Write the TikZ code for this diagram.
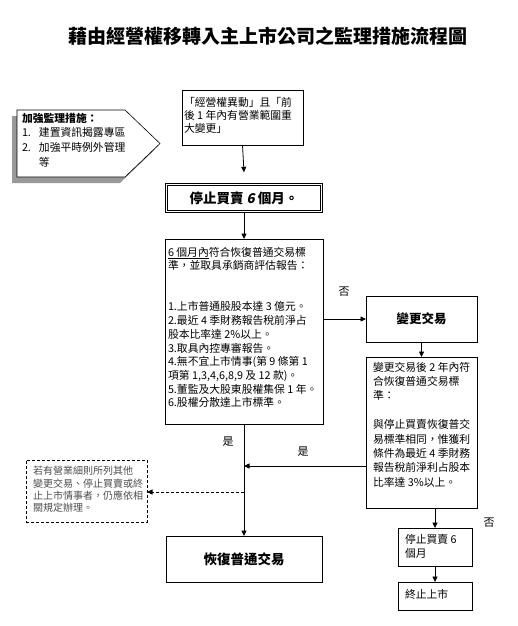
\documentclass[tikz,border=0pt]{standalone}
\usepackage{fontspec}
\setmainfont{Noto Sans CJK TC}
\newfontfamily\slantcjk{Noto Sans CJK TC}[FakeSlant=0.2]
\usetikzlibrary{arrows.meta}
\begin{document}
\begin{tikzpicture}[x=1pt,y=-1pt,
  box/.style={draw, line width=0.8pt, inner sep=0pt, outer sep=0pt, anchor=north west},
  txt/.style={inner sep=0pt, outer sep=0pt, anchor=north west, align=left, font=\fontsize{10.8}{13.7}\selectfont},
  lbl/.style={inner sep=0pt, font=\fontsize{11}{13}\selectfont},
  arr/.style={line width=0.8pt, -{Triangle[length=5.5pt,width=5pt]}}]
\useasboundingbox (0,0) rectangle (518,626);

\node[inner sep=0pt, font=\bfseries\fontsize{19}{23}\selectfont] (title) at (268,36) {藉由經營權移轉入主上市公司之監理措施流程圖};

% callout with shadow
\fill[black!40] (12,116) -- (120,116) -- (155,149.5) -- (120,183) -- (12,183) -- cycle;
\draw[line width=0.6pt, fill=white] (17,110) -- (125,110) -- (160,143.5) -- (125,177) -- (17,177) -- cycle;
\node[txt, font=\fontsize{10.8}{14.6}\selectfont] (calltxt) at (22,113)
  {{\bfseries 加強監理措施：}\\\makebox[17pt][l]{1.}建置資訊揭露專區\\\makebox[17pt][l]{2.}加強平時例外管理\\\makebox[17pt][l]{}等};

% boxes
\node[box, minimum width=121pt, minimum height=55pt] (b1) at (182,90) {};
\node[txt, font=\fontsize{10.8}{13}\selectfont] (b1t) at (184,97) {「經營權異動」且「前\\後 1 年內有營業範圍重\\大變更」};

\node[draw, line width=0.6pt, double, double distance=1.5pt, inner sep=0pt, outer sep=0pt, anchor=north west,
      minimum width=155.4pt, minimum height=27.4pt, font=\bfseries\fontsize{13.5}{15}\selectfont] (b2) at (166.3,184.3) {停止買賣 {\slantcjk\bfseries 6} 個月。};

\node[box, minimum width=158pt, minimum height=185pt] (b3) at (165,239) {};
\node[txt] (b3t) at (168,247) {\underline{6 個月內}符合恢復普通交易標\\準，並取具承銷商評估報告：\\\mbox{}\\\mbox{}\\1.上市普通股股本達 3 億元。\\2.最近 4 季財務報告稅前淨占\\股本比率達 2\%以上。\\3.取具內控專審報告。\\4.無不宜上市情事(第 9 條第 1\\項第 1,3,4,6,8,9 及 12 款)。\\5.董監及大股東股權集保 1 年。\\6.股權分散達上市標準。};

\node[box, minimum width=111pt, minimum height=46pt, font=\bfseries\fontsize{12.5}{14}\selectfont] (b4) at (366,296) {變更交易};

\node[box, minimum width=111pt, minimum height=151pt] (b5) at (366,357) {};
\node[txt, font=\fontsize{10.8}{14.4}\selectfont] (b5t) at (373,362) {變更交易後 2 年內符\\合恢復普通交易標\\準：\\\mbox{}\\與停止買賣恢復普交\\易標準相同，惟獲利\\條件為最近 4 季財務\\報告稅前淨利占股本\\比率達 3\%以上。};

\node[box, minimum width=156pt, minimum height=46pt, font=\bfseries\fontsize{13.5}{15}\selectfont] (b6) at (166,536) {恢復普通交易};

\node[box, minimum width=74pt, minimum height=38pt] (b7) at (398,528) {};
\node[txt, font=\fontsize{10.8}{14}\selectfont] (b7t) at (405,534) {停止買賣 6\\個月};

\node[box, minimum width=74pt, minimum height=28pt] (b8) at (398,582) {};
\node[txt] (b8t) at (405,589) {終止上市};

\node[box, dashed, dash pattern=on 3pt off 2pt, minimum width=121pt, minimum height=62pt] (dbox) at (26,460) {};
\node[txt, text=black!70, font=\fontsize{10}{12.3}\selectfont] (dboxt) at (33,466.5) {若有營業細則所列其他\\變更交易、停止買賣或終\\止上市情事者，仍應依相\\關規定辦理。};

% labels
\node[lbl] (no1) at (344,292) {否};
\node[lbl] (yes1) at (228,442) {是};
\node[lbl] (yes2) at (303,452) {是};
\node[lbl] (no2) at (489,523) {否};

% connectors
\coordinate (j1) at (244,466);
\coordinate (j2) at (244,492);
\draw[arr] (b1.south) -- ([yshift=12pt]b2.north);
\draw[arr] (b2.south) -- (b3.north);
\draw[arr] (b3.east |- b4.west) -- (b4.west);
\draw[arr] (b4.south) -- (b5.north);
\draw[arr] (b3.south) -- (b6.north);
\draw[arr] (b5.west |- j1) -- (j1);
\draw[arr, dash pattern=on 3pt off 2pt] (j2) -- (dbox.east |- j2);
\draw[arr] (b7.north |- b5.south) -- (b7.north);
\draw[arr] (b7.south) -- (b8.north);
\end{tikzpicture}
\end{document}
